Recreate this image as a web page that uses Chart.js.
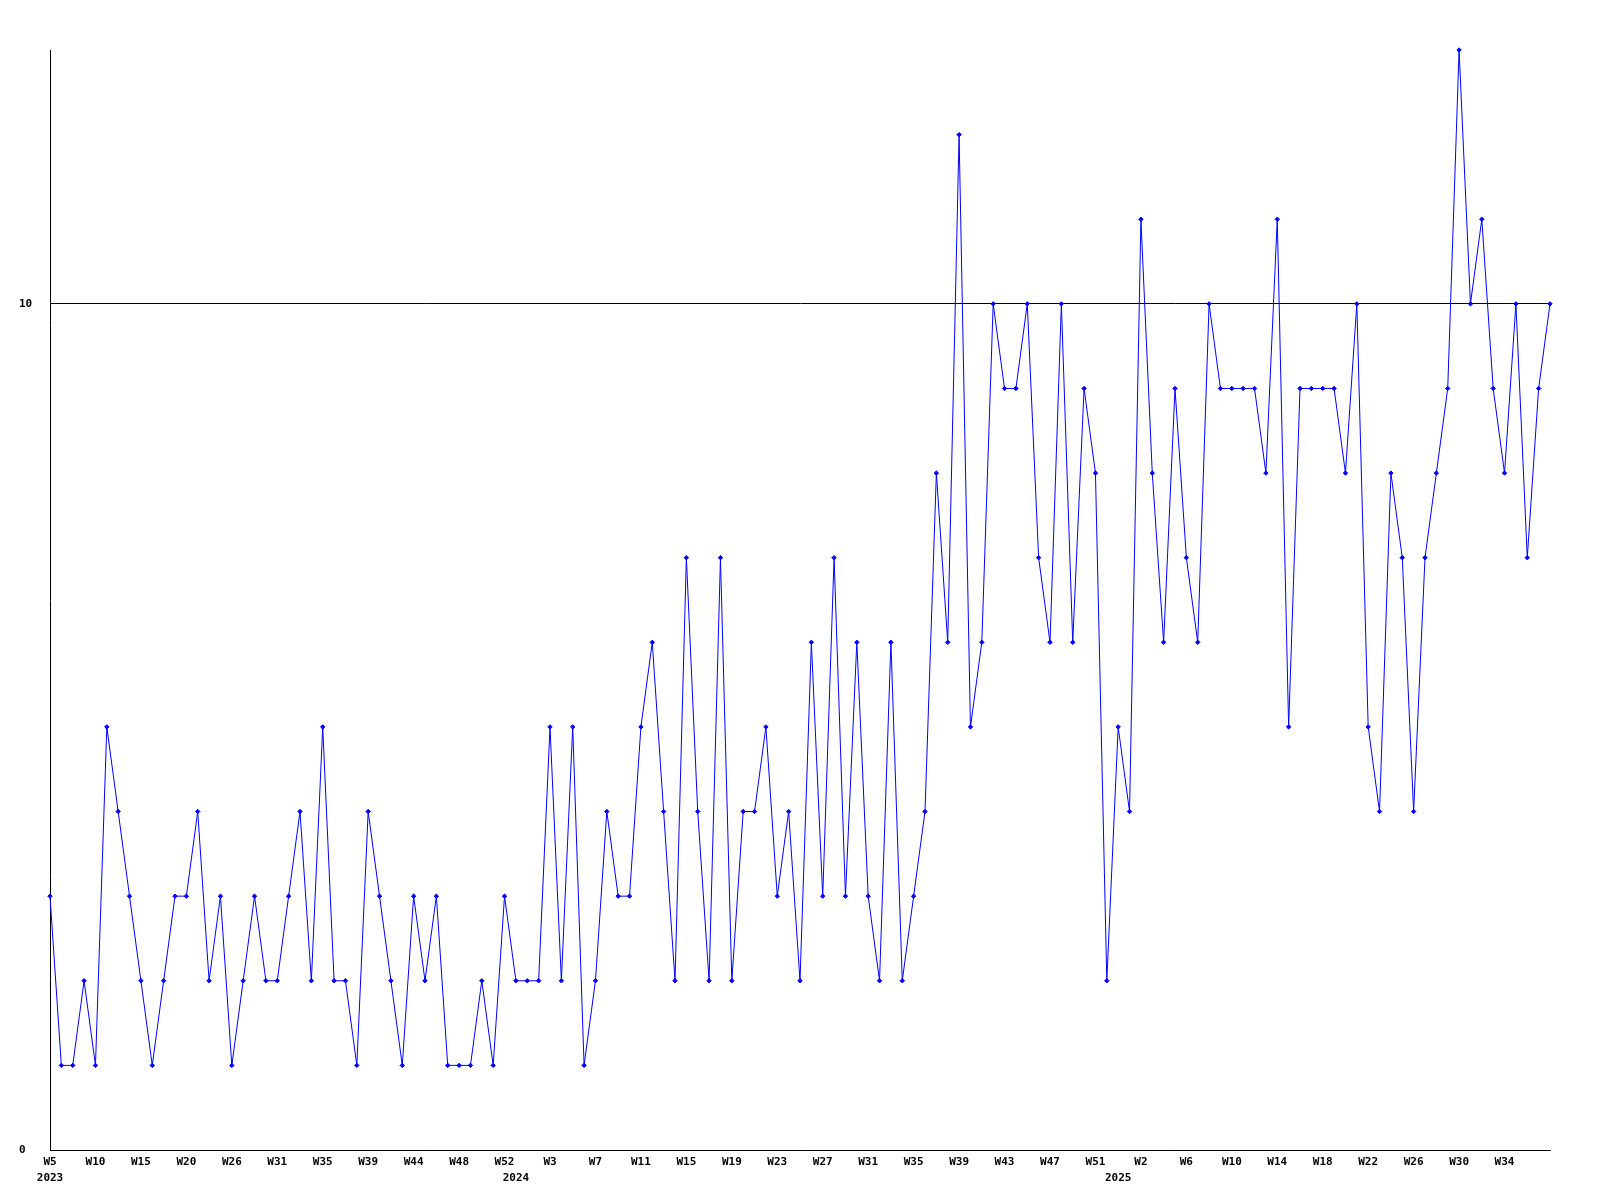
<!DOCTYPE html>
<html>
<head>
<meta charset="utf-8">
<script src="https://cdn.jsdelivr.net/npm/chart.js@4/dist/chart.umd.min.js"></script>
<style>
  body { margin: 0; background: #fff; }
</style>
</head>
<body>
<canvas id="grafica" width="1600" height="1200"></canvas>
<script>
// valores semanales
const valores = [
  3, 1, 1, 2, 1, 5, 4, 3, 2, 1,
  2, 3, 3, 4, 2, 3, 1, 2, 3, 2,
  2, 3, 4, 2, 5, 2, 2, 1, 4, 3,
  2, 1, 3, 2, 3, 1, 1, 1, 2, 1,
  3, 2, 2, 2, 5, 2, 5, 1, 2, 4,
  3, 3, 5, 6, 4, 2, 7, 4, 2, 7,
  2, 4, 4, 5, 3, 4, 2, 6, 3, 7,
  3, 6, 3, 2, 6, 2, 3, 4, 8, 6,
  12, 5, 6, 10, 9, 9, 10, 7, 6, 10,
  6, 9, 8, 2, 5, 4, 11, 8, 6, 9,
  7, 6, 10, 9, 9, 9, 9, 8, 11, 5,
  9, 9, 9, 9, 8, 10, 5, 4, 8, 7,
  4, 7, 8, 9, 13, 10, 11, 9, 8, 10,
  7, 9, 10
];

// etiquetas de semana (una cada 4 puntos)
const semanas = ['W5', 'W10', 'W15', 'W20', 'W26', 'W31', 'W35', 'W39', 'W44', 'W48', 'W52',
  'W3', 'W7', 'W11', 'W15', 'W19', 'W23', 'W27', 'W31', 'W35', 'W39', 'W43', 'W47', 'W51',
  'W2', 'W6', 'W10', 'W14', 'W18', 'W22', 'W26', 'W30', 'W34'];
const pasoSemanas = 4;

// años y en qué punto empiezan
const anios = ['2023', '2024', '2025'];
const inicioAnio = [0, 41, 94];

const ticksY = [0, 10];

// armamos las etiquetas de categoria (2 lineas: semana / año)
let etiquetas = valores.map((v, i) => {
  let sem = (i % pasoSemanas === 0 && semanas[i / pasoSemanas]) ? semanas[i / pasoSemanas] : '';
  let k = inicioAnio.indexOf(i);
  let anio = k >= 0 ? anios[k] : '';
  return [sem, anio];
});

const fuente = { family: '"DejaVu Sans Mono", monospace', size: 11, weight: 'bold', lineHeight: 16 / 11 };

const data = {
  labels: etiquetas,
  datasets: [{
    data: valores,
    borderColor: '#0000ff',
    backgroundColor: '#0000ff',
    borderWidth: 1,
    pointStyle: 'rectRot',
    pointRadius: 2.2,
    pointBorderWidth: 1,
    pointBackgroundColor: '#0000ff',
    pointBorderColor: '#0000ff',
    tension: 0,
    fill: false,
    clip: false
  }]
};

const config = {
  type: 'line',
  data: data,
  options: {
    responsive: false,
    animation: false,
    layout: { padding: { left: 19, right: 50, top: 50, bottom: 0 } },
    plugins: {
      legend: { display: false },
      tooltip: { enabled: false }
    },
    scales: {
      x: {
        grid: { display: false, drawTicks: false },
        border: { display: true, color: '#000', width: 1 },
        ticks: {
          autoSkip: false,
          maxRotation: 0,
          minRotation: 0,
          padding: 4,
          color: '#000',
          font: fuente
        },
        afterFit: (scale) => { scale.height = 50; }
      },
      y: {
        min: 0,
        max: 13,
        afterBuildTicks: (axis) => { axis.ticks = ticksY.map(v => ({ value: v })); },
        grid: { color: '#000', lineWidth: 1, drawTicks: false },
        border: { display: true, color: '#000', width: 1 },
        ticks: {
          crossAlign: 'far',
          padding: 0,
          color: '#000',
          font: fuente
        },
        afterFit: (scale) => { scale.width = 31; }
      }
    }
  }
};

new Chart(document.getElementById('grafica'), config);
</script>
</body>
</html>
